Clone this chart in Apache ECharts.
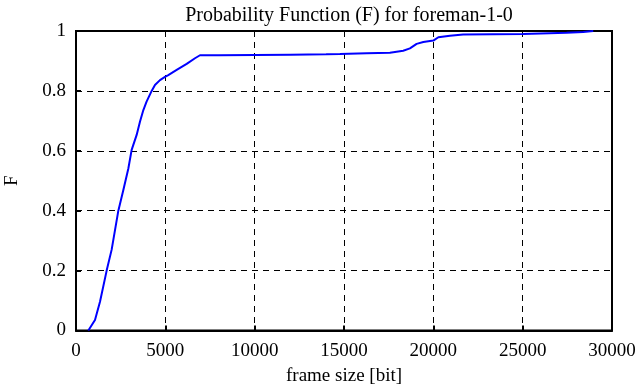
<!DOCTYPE html>
<html><head><meta charset="utf-8">
<script src="https://cdn.jsdelivr.net/npm/echarts@6/dist/echarts.min.js"></script>
<style>html,body{margin:0;padding:0;background:#fff}#c{width:639px;height:387px}</style>
</head><body><div id="c"></div>
<script>
const titleText = "Probability Function (F) for foreman-1-0";
const xName = "frame size [bit]";
const yName = "F";
const frameSize = [690,1063,1343,1716,1996,2370,2650,2930,3115,3395,3580,3770,3950,4235,4420,4700,4980,5165,5635,6195,6660,6940,8000,10000,12000,14000,14770,16270,17570,18315,18690,19065,19440,20000,20280,20930,21670,25030,27460,28390,28950];
const probF = [0,0.035,0.096,0.2,0.27,0.4,0.469,0.541,0.603,0.653,0.697,0.736,0.764,0.8,0.82,0.836,0.847,0.853,0.87,0.89,0.909,0.919,0.919,0.92,0.921,0.922,0.923,0.9255,0.9275,0.934,0.942,0.957,0.963,0.968,0.979,0.984,0.988,0.99,0.9945,0.997,1.0];
const xTicks = {min:0,max:30000,interval:5000};
const yTicks = {min:0,max:1,interval:0.2};

const serif = "'Liberation Serif','DejaVu Serif',serif";
const chart = echarts.init(document.getElementById('c'));
chart.setOption({
  animation:false,
  title:{text:titleText,left:344,top:1,textAlign:'center',textStyle:{fontFamily:serif,fontSize:20,fontWeight:'normal',color:'#000'}},
  grid:{left:76,top:31,width:536,height:299.5,containLabel:false,outerBoundsMode:'none',show:true,borderColor:'#000',borderWidth:2,backgroundColor:'transparent'},
  xAxis:{type:'value',min:xTicks.min,max:xTicks.max,interval:xTicks.interval,
    name:xName,nameLocation:'middle',nameGap:36,nameTextStyle:{fontFamily:serif,fontSize:19,color:'#000'},
    axisLine:{show:true,lineStyle:{color:'#000',width:2}},
    axisTick:{show:true,inside:true,length:5,lineStyle:{color:'#000',width:2}},
    axisLabel:{fontFamily:serif,fontSize:19,color:'#000',margin:11,formatter:v=>String(v)},
    splitLine:{show:true,lineStyle:{color:'#000',type:[6,5],width:1}}},
  yAxis:{type:'value',min:yTicks.min,max:yTicks.max,interval:yTicks.interval,
    name:yName,nameLocation:'middle',nameGap:54,nameRotate:90,nameTextStyle:{fontFamily:serif,fontSize:19,color:'#000'},
    axisLine:{show:true,lineStyle:{color:'#000',width:2}},
    axisTick:{show:true,inside:true,length:5,lineStyle:{color:'#000',width:2}},
    axisLabel:{fontFamily:serif,fontSize:19,color:'#000',margin:10,formatter:v=>String(Math.round(v*10)/10)},
    splitLine:{show:true,lineStyle:{color:'#000',type:[6,5],width:1}}},
  series:[{type:'line',data:frameSize.map((x,i)=>[x,probF[i]]),showSymbol:false,lineStyle:{color:'#0000ff',width:2},itemStyle:{color:'#0000ff'}}]
});
</script></body></html>
